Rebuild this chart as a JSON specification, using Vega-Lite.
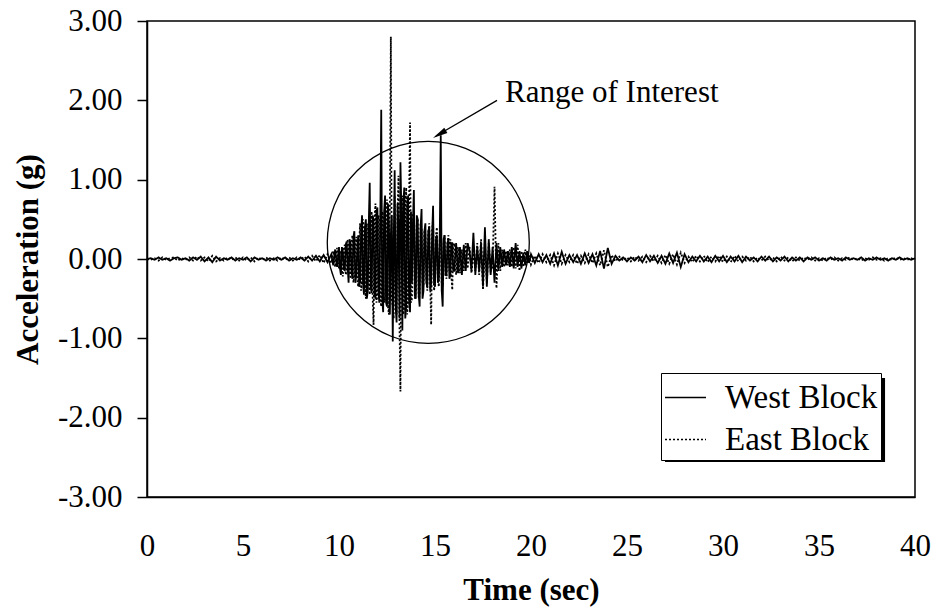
{
  "$schema": "https://vega.github.io/schema/vega-lite/v6.json",
  "width": 768,
  "height": 476,
  "autosize": {"type": "none"},
  "padding": {"left": 147, "top": 21, "right": 22, "bottom": 116},
  "background": "white",
  "config": {
    "font": "Liberation Serif",
    "view": {"stroke": "black", "strokeWidth": 1.5},
    "axis": {
      "domainColor": "black", "domainWidth": 1.5, "tickColor": "black", "tickWidth": 1.5,
      "labelColor": "black", "titleColor": "black", "grid": false,
      "labelFont": "Liberation Serif", "titleFont": "Liberation Serif",
      "labelFontSize": 31, "titleFontSize": 31, "titleFontWeight": "bold"
    }
  },
  "datasets": {
    "accel": [
      {"t":0,"West":0,"East":0},{"t":0.2,"West":0.01,"East":-0.01},{"t":0.4,"West":-0.01,"East":0.01},{"t":0.6,"West":0.02,"East":-0.02},{"t":0.8,"West":-0.01,"East":0.02},
      {"t":1.0,"West":0.01,"East":-0.01},{"t":1.2,"West":-0.02,"East":0.01},{"t":1.4,"West":0.01,"East":0.02},{"t":1.6,"West":0.02,"East":-0.02},{"t":1.8,"West":-0.01,"East":0.01},
      {"t":2.0,"West":0.01,"East":-0.01},{"t":2.2,"West":-0.02,"East":0.02},{"t":2.4,"West":0.02,"East":-0.02},{"t":2.6,"West":-0.01,"East":0.03},{"t":2.8,"West":0.03,"East":-0.02},
      {"t":3.0,"West":-0.03,"East":0.02},{"t":3.2,"West":0.02,"East":-0.03},{"t":3.4,"West":-0.04,"East":0.04},{"t":3.6,"West":0.03,"East":-0.03},{"t":3.8,"West":-0.02,"East":0.01},
      {"t":4.0,"West":0.01,"East":-0.02},{"t":4.2,"West":-0.01,"East":0.02},{"t":4.4,"West":0.02,"East":-0.01},{"t":4.6,"West":-0.02,"East":0.02},{"t":4.8,"West":0.01,"East":-0.02},
      {"t":5.0,"West":-0.01,"East":0.02},{"t":5.2,"West":0.02,"East":-0.02},{"t":5.4,"West":-0.03,"East":0.02},{"t":5.6,"West":0.02,"East":-0.03},{"t":5.8,"West":-0.01,"East":0.02},
      {"t":6.0,"West":0.01,"East":-0.01},{"t":6.2,"West":-0.02,"East":0.02},{"t":6.4,"West":0.01,"East":-0.02},{"t":6.6,"West":-0.01,"East":0.01},{"t":6.8,"West":0.02,"East":-0.02},
      {"t":7.0,"West":-0.01,"East":0.02},{"t":7.2,"West":0.02,"East":-0.01},{"t":7.4,"West":-0.02,"East":0.02},{"t":7.6,"West":0.01,"East":-0.02},{"t":7.8,"West":-0.01,"East":0.02},
      {"t":8.0,"West":0.02,"East":-0.01},{"t":8.2,"West":-0.02,"East":0.03},{"t":8.4,"West":0.03,"East":-0.03},{"t":8.6,"West":-0.02,"East":0.04},{"t":8.8,"West":0.04,"East":-0.03},
      {"t":9.0,"West":-0.03,"East":0.05},{"t":9.2,"West":0.05,"East":-0.05},{"t":9.4,"West":-0.04,"East":0.06},
      {"t":9.6,"West":0.06,"East":-0.05},{"t":9.7,"West":-0.08,"East":0.1},{"t":9.8,"West":0.12,"East":-0.1},{"t":9.9,"West":-0.1,"East":0.14},
      {"t":10.0,"West":0.15,"East":-0.12},{"t":10.1,"West":-0.2,"East":0.1},{"t":10.2,"West":0.1,"East":-0.22},{"t":10.3,"West":-0.15,"East":0.18},{"t":10.4,"West":0.22,"East":-0.15},
      {"t":10.5,"West":-0.3,"East":0.12},{"t":10.6,"West":0.2,"East":-0.25},{"t":10.7,"West":-0.25,"East":0.3},{"t":10.8,"West":0.35,"East":-0.2},{"t":10.9,"West":-0.2,"East":0.28},
      {"t":11.0,"West":0.3,"East":-0.35},{"t":11.1,"West":-0.28,"East":0.45},{"t":11.2,"West":0.55,"East":-0.3},{"t":11.3,"West":-0.45,"East":0.4},{"t":11.4,"West":0.5,"East":-0.5},
      {"t":11.5,"West":-0.4,"East":0.35},{"t":11.6,"West":0.96,"East":-0.45},{"t":11.7,"West":-0.43,"East":0.6},{"t":11.8,"West":0.5,"East":-0.83},{"t":11.9,"West":-0.5,"East":0.7},
      {"t":12.0,"West":0.65,"East":-0.45},{"t":12.1,"West":-0.55,"East":0.5},{"t":12.2,"West":1.88,"East":-0.6},{"t":12.3,"West":-0.67,"East":0.55},{"t":12.4,"West":0.8,"East":-0.5},
      {"t":12.5,"West":-0.6,"East":0.75},{"t":12.6,"West":0.45,"East":-0.7},{"t":12.7,"West":0.3,"East":2.8},{"t":12.8,"West":-1.04,"East":-0.6},{"t":12.9,"West":1.12,"East":0.8},
      {"t":13.0,"West":-0.8,"East":-0.7},{"t":13.1,"West":0.4,"East":1.05},{"t":13.2,"West":1.22,"East":-1.67},{"t":13.3,"West":-0.9,"East":0.8},{"t":13.4,"West":0.9,"East":-0.6},
      {"t":13.5,"West":-0.6,"East":0.9},{"t":13.6,"West":0.8,"East":-0.5},{"t":13.7,"West":-0.67,"East":1.72},{"t":13.8,"West":-0.3,"East":-0.5},{"t":13.9,"West":0.87,"East":0.6},
      {"t":14.0,"West":-0.5,"East":-0.4},{"t":14.1,"West":0.5,"East":0.5},{"t":14.2,"West":-0.6,"East":-0.45},{"t":14.3,"West":0.63,"East":0.4},{"t":14.4,"West":-0.4,"East":-0.35},
      {"t":14.5,"West":0.45,"East":0.3},{"t":14.6,"West":-0.35,"East":-0.4},{"t":14.7,"West":0.4,"East":0.45},{"t":14.8,"West":-0.3,"East":-0.83},{"t":14.9,"West":0.67,"East":0.5},
      {"t":15.0,"West":-0.35,"East":-0.3},{"t":15.1,"West":0.3,"East":0.4},{"t":15.2,"West":-0.25,"East":-0.35},{"t":15.3,"West":1.56,"East":0.3},{"t":15.4,"West":-0.6,"East":-0.35},
      {"t":15.5,"West":0.3,"East":0.3},{"t":15.6,"West":-0.2,"East":-0.25},{"t":15.7,"West":0.25,"East":0.3},{"t":15.8,"West":-0.2,"East":0.25},{"t":15.9,"West":0.2,"East":-0.39},
      {"t":16.0,"West":-0.15,"East":0.2},{"t":16.1,"West":0.2,"East":-0.2},{"t":16.2,"West":-0.18,"East":0.15},{"t":16.3,"West":0.15,"East":-0.18},{"t":16.4,"West":-0.2,"East":0.12},
      {"t":16.5,"West":0.18,"East":-0.15},{"t":16.6,"West":-0.15,"East":0.2},{"t":16.7,"West":0.2,"East":-0.12},{"t":16.8,"West":0.1,"East":0.15},{"t":16.9,"West":-0.15,"East":-0.18},
      {"t":17.0,"West":0.33,"East":0.1},{"t":17.1,"West":-0.2,"East":-0.15},{"t":17.2,"West":0.15,"East":0.2},{"t":17.3,"West":-0.15,"East":-0.2},{"t":17.4,"West":0.2,"East":0.25},
      {"t":17.5,"West":-0.35,"East":-0.39},{"t":17.6,"West":0.4,"East":0.2},{"t":17.7,"West":-0.35,"East":-0.3},{"t":17.8,"West":0.25,"East":0.2},{"t":17.9,"West":-0.2,"East":-0.15},
      {"t":18.0,"West":0.15,"East":-0.1},{"t":18.1,"West":-0.3,"East":0.91},{"t":18.2,"West":0.2,"East":-0.37},{"t":18.3,"West":-0.15,"East":0.2},{"t":18.4,"West":0.15,"East":-0.15},
      {"t":18.5,"West":-0.1,"East":0.12},{"t":18.6,"West":0.12,"East":-0.1},{"t":18.7,"West":-0.08,"East":0.1},{"t":18.8,"West":0.1,"East":-0.08},{"t":18.9,"West":-0.1,"East":0.12},
      {"t":19.0,"West":0.15,"East":-0.1},{"t":19.1,"West":-0.12,"East":0.15},{"t":19.2,"West":0.2,"East":-0.12},{"t":19.3,"West":-0.1,"East":0.18},{"t":19.4,"West":0.1,"East":-0.15},
      {"t":19.5,"West":-0.12,"East":0.1},{"t":19.6,"West":0.08,"East":-0.1},{"t":19.7,"West":-0.08,"East":0.12},{"t":19.8,"West":0.1,"East":-0.06},{"t":19.9,"West":-0.05,"East":0.05},
      {"t":20.0,"West":0.06,"East":-0.07},
      {"t":20.2,"West":-0.05,"East":0.04},{"t":20.4,"West":0.06,"East":-0.05},{"t":20.6,"West":-0.04,"East":0.06},{"t":20.8,"West":0.05,"East":-0.04},{"t":21.0,"West":-0.06,"East":0.05},
      {"t":21.2,"West":0.07,"East":-0.08},{"t":21.4,"West":-0.08,"East":0.07},{"t":21.6,"West":0.09,"East":-0.06},{"t":21.8,"West":-0.06,"East":0.05},{"t":22.0,"West":0.05,"East":-0.04},
      {"t":22.2,"West":-0.04,"East":0.05},{"t":22.4,"West":0.05,"East":-0.06},{"t":22.6,"West":-0.06,"East":0.04},{"t":22.8,"West":0.07,"East":-0.05},{"t":23.0,"West":-0.05,"East":0.06},
      {"t":23.2,"West":0.06,"East":-0.05},{"t":23.4,"West":-0.08,"East":0.07},{"t":23.6,"West":0.1,"East":-0.08},{"t":23.8,"West":-0.12,"East":0.11},{"t":24.0,"West":0.14,"East":-0.1},
      {"t":24.2,"West":-0.06,"East":0.05},{"t":24.4,"West":0.04,"East":-0.03},{"t":24.6,"West":-0.02,"East":0.03},{"t":24.8,"West":0.02,"East":-0.02},{"t":25.0,"West":-0.03,"East":0.02},
      {"t":25.2,"West":0.02,"East":-0.03},{"t":25.4,"West":-0.02,"East":0.03},{"t":25.6,"West":0.03,"East":-0.02},{"t":25.8,"West":-0.04,"East":0.03},{"t":26.0,"West":0.05,"East":-0.04},
      {"t":26.2,"West":-0.03,"East":0.04},{"t":26.4,"West":0.04,"East":-0.03},{"t":26.6,"West":-0.05,"East":0.04},{"t":26.8,"West":0.04,"East":-0.05},{"t":27.0,"West":-0.06,"East":0.05},
      {"t":27.2,"West":0.07,"East":-0.06},{"t":27.4,"West":-0.05,"East":0.06},{"t":27.6,"West":0.08,"East":-0.07},{"t":27.8,"West":-0.1,"East":0.08},{"t":28.0,"West":0.06,"East":-0.05},
      {"t":28.2,"West":-0.04,"East":0.03},{"t":28.4,"West":0.03,"East":-0.04},{"t":28.6,"West":-0.03,"East":0.04},{"t":28.8,"West":0.04,"East":-0.03},{"t":29.0,"West":-0.03,"East":0.04},
      {"t":29.2,"West":0.03,"East":-0.04},{"t":29.4,"West":-0.04,"East":0.03},{"t":29.6,"West":0.04,"East":-0.03},{"t":29.8,"West":-0.03,"East":0.04},{"t":30.0,"West":0.04,"East":-0.04},
      {"t":30.2,"West":-0.04,"East":0.03},{"t":30.4,"West":0.03,"East":-0.04},{"t":30.6,"West":-0.03,"East":0.04},{"t":30.8,"West":0.04,"East":-0.03},{"t":31.0,"West":-0.04,"East":0.03},
      {"t":31.2,"West":0.03,"East":-0.02},{"t":31.4,"West":-0.02,"East":0.03},{"t":31.6,"West":0.02,"East":-0.03},{"t":31.8,"West":-0.03,"East":0.02},{"t":32.0,"West":0.03,"East":-0.02},
      {"t":32.2,"West":-0.02,"East":0.03},{"t":32.4,"West":0.03,"East":-0.02},{"t":32.6,"West":-0.03,"East":0.02},{"t":32.8,"West":0.02,"East":-0.03},{"t":33.0,"West":-0.02,"East":0.03},
      {"t":33.2,"West":0.03,"East":-0.02},{"t":33.4,"West":-0.03,"East":0.02},{"t":33.6,"West":0.02,"East":-0.03},{"t":33.8,"West":-0.02,"East":0.02},{"t":34.0,"West":0.02,"East":-0.02},
      {"t":34.2,"West":-0.03,"East":0.02},{"t":34.4,"West":0.02,"East":-0.01},{"t":34.6,"West":-0.01,"East":0.02},{"t":34.8,"West":0.02,"East":-0.02},{"t":35.0,"West":-0.02,"East":0.01},
      {"t":35.2,"West":0.01,"East":-0.02},{"t":35.4,"West":-0.02,"East":0.02},{"t":35.6,"West":0.02,"East":-0.01},{"t":35.8,"West":-0.01,"East":0.02},{"t":36.0,"West":0.01,"East":-0.02},
      {"t":36.2,"West":-0.02,"East":0.01},{"t":36.4,"West":0.02,"East":-0.01},{"t":36.6,"West":-0.01,"East":0.02},{"t":36.8,"West":0.01,"East":-0.01},{"t":37.0,"West":-0.01,"East":0.01},
      {"t":37.2,"West":0.02,"East":-0.02},{"t":37.4,"West":-0.02,"East":0.01},{"t":37.6,"West":0.01,"East":-0.01},{"t":37.8,"West":-0.01,"East":0.02},{"t":38.0,"West":0.02,"East":-0.01},
      {"t":38.2,"West":-0.01,"East":0.01},{"t":38.4,"West":0.01,"East":-0.02},{"t":38.6,"West":-0.02,"East":0.01},{"t":38.8,"West":0.01,"East":-0.01},{"t":39.0,"West":-0.01,"East":0.02},
      {"t":39.2,"West":0.02,"East":-0.01},{"t":39.4,"West":-0.01,"East":0.01},{"t":39.6,"West":0.01,"East":-0.01},{"t":39.8,"West":-0.01,"East":0.01},{"t":40.0,"West":0.01,"East":-0.01},
      {"t":10.05,"West":-0.12,"East":0.08},{"t":10.15,"West":0.15,"East":-0.14},{"t":10.25,"West":-0.12,"East":0.12},{"t":10.35,"West":0.18,"East":-0.2},{"t":10.45,"West":-0.1,"East":0.25},
      {"t":10.55,"West":0.25,"East":-0.1},{"t":10.65,"West":-0.15,"East":0.2},{"t":10.75,"West":0.28,"East":-0.3},{"t":10.85,"West":-0.3,"East":0.15},{"t":10.95,"West":0.1,"East":-0.25},
      {"t":11.05,"West":-0.35,"East":0.2},{"t":11.15,"West":0.3,"East":-0.4},{"t":11.25,"West":-0.3,"East":0.5},{"t":11.35,"West":0.4,"East":-0.35},{"t":11.45,"West":-0.5,"East":0.45},
      {"t":11.55,"West":0.45,"East":-0.3},{"t":11.65,"West":-0.35,"East":0.4},{"t":11.75,"West":0.55,"East":-0.45},{"t":11.85,"West":-0.45,"East":0.5},{"t":11.95,"West":0.6,"East":-0.55},
      {"t":12.05,"West":-0.4,"East":0.55},{"t":12.15,"West":0.5,"East":-0.5},{"t":12.25,"West":-0.5,"East":0.6},{"t":12.35,"West":0.6,"East":-0.55},{"t":12.45,"West":-0.55,"East":0.5},
      {"t":12.55,"West":0.7,"East":-0.6},{"t":12.65,"West":-0.7,"East":0.65},{"t":12.75,"West":0.55,"East":-0.5},{"t":12.85,"West":0.2,"East":-0.75},{"t":12.95,"West":-0.6,"East":-0.5},
      {"t":13.05,"West":0.7,"East":0.6},{"t":13.15,"West":-0.75,"East":-0.8},{"t":13.25,"West":0.6,"East":0.7},{"t":13.35,"West":0.7,"East":-0.7},{"t":13.45,"West":-0.75,"East":0.6},
      {"t":13.55,"West":0.65,"East":-0.7},{"t":13.65,"West":-0.55,"East":0.7},{"t":13.75,"West":0.6,"East":-0.55},{"t":13.85,"West":0.45,"East":0.55},{"t":13.95,"West":-0.45,"East":-0.5},
      {"t":14.05,"West":0.55,"East":0.45},{"t":14.15,"West":-0.45,"East":-0.5},{"t":14.25,"West":0.4,"East":0.45},{"t":14.35,"West":-0.5,"East":-0.3},{"t":14.45,"West":0.35,"East":0.35},
      {"t":14.55,"West":-0.3,"East":-0.25},{"t":14.65,"West":0.35,"East":0.3},{"t":14.75,"West":-0.4,"East":-0.3},{"t":14.85,"West":0.3,"East":0.35},{"t":14.95,"West":-0.3,"East":-0.4},
      {"t":15.05,"West":0.25,"East":0.3},{"t":15.15,"West":-0.3,"East":-0.25},{"t":15.25,"West":0.35,"East":0.25},{"t":15.35,"West":-0.4,"East":-0.3},{"t":15.45,"West":0.25,"East":0.2},
      {"t":15.55,"West":-0.2,"East":-0.2},{"t":15.65,"West":0.2,"East":0.2},{"t":15.75,"West":-0.25,"East":-0.15},{"t":15.85,"West":0.2,"East":-0.2},{"t":15.95,"West":-0.15,"East":0.15}
    ]
  },
  "layer": [
    {
      "data": {"values": [{"t1": 26.98, "t2": 38.44, "a1": -1.5, "a2": -2.559}]},
      "mark": {"type": "rect", "color": "black"},
      "encoding": {
        "x": {"field": "t1", "type": "quantitative"},
        "x2": {"field": "t2"},
        "y": {"field": "a1", "type": "quantitative"},
        "y2": {"field": "a2"}
      }
    },
    {
      "data": {"name": "accel"},
      "transform": [{"fold": ["West", "East"], "as": ["block", "a"]}],
      "mark": {"type": "line", "strokeWidth": 1.8, "color": "black"},
      "encoding": {
        "x": {
          "field": "t", "type": "quantitative",
          "scale": {"domain": [0, 40], "nice": false},
          "axis": {
            "values": [0, 5, 10, 15, 20, 25, 30, 35, 40], "format": "d",
            "ticks": false, "tickSize": 0, "labelPadding": 58, "labelBaseline": "alphabetic",
            "labelFlush": false, "title": "Time (sec)", "titleY": 102, "titleBaseline": "alphabetic"
          }
        },
        "y": {
          "field": "a", "type": "quantitative",
          "scale": {"domain": [-3, 3], "nice": false},
          "axis": {
            "values": [-3, -2, -1, 0, 1, 2, 3],
            "labelExpr": "(datum.value < 0 ? '-' : '') + format(abs(datum.value), '.2f')",
            "tickSize": 10, "labelPadding": 15, "labelFlush": false,
            "title": "Acceleration (g)", "titleX": -110, "titleY": 238,
            "titleBaseline": "alphabetic", "titleAngle": -90, "titleAlign": "center"
          }
        },
        "strokeDash": {
          "field": "block", "type": "nominal",
          "scale": {"domain": ["West", "East"], "range": [[1, 0], [2, 2]]},
          "legend": {
            "orient": "none", "legendX": 514, "legendY": 352, "title": null,
            "strokeColor": "black", "fillColor": "white", "padding": 3,
            "symbolType": "stroke", "symbolSize": 1681, "symbolStrokeWidth": 1.5,
            "symbolStrokeColor": "black", "labelFontSize": 33, "labelFont": "Liberation Serif",
            "labelColor": "black", "labelOffset": 18, "rowPadding": 3, "labelLimit": 400,
            "labelExpr": "datum.label + ' Block'"
          }
        }
      }
    },
    {
      "data": {"values": [{"t": 14.65, "a": 0.21}]},
      "mark": {"type": "point", "shape": "circle", "size": 40804, "filled": false, "stroke": "black", "strokeWidth": 1.3, "opacity": 1},
      "encoding": {
        "x": {"field": "t", "type": "quantitative"},
        "y": {"field": "a", "type": "quantitative"}
      }
    },
    {
      "data": {"values": [{"t": 18.23, "a": 2.0, "t2": 15.05, "a2": 1.55}]},
      "mark": {"type": "rule", "strokeWidth": 1.3, "color": "black"},
      "encoding": {
        "x": {"field": "t", "type": "quantitative"},
        "y": {"field": "a", "type": "quantitative"},
        "x2": {"field": "t2"},
        "y2": {"field": "a2"}
      }
    },
    {
      "data": {"values": [{"t": 15.23, "a": 1.573}]},
      "mark": {"type": "point", "shape": "M0,-1L0.4,1L-0.4,1Z", "size": 225, "filled": true, "color": "black", "opacity": 1, "angle": 239},
      "encoding": {
        "x": {"field": "t", "type": "quantitative"},
        "y": {"field": "a", "type": "quantitative"}
      }
    },
    {
      "data": {"values": [{"t": 18.65, "a": 1.98, "label": "Range of Interest"}]},
      "mark": {"type": "text", "align": "left", "baseline": "alphabetic", "fontSize": 31, "font": "Liberation Serif", "color": "black"},
      "encoding": {
        "x": {"field": "t", "type": "quantitative"},
        "y": {"field": "a", "type": "quantitative"},
        "text": {"field": "label"}
      }
    }
  ]
}
